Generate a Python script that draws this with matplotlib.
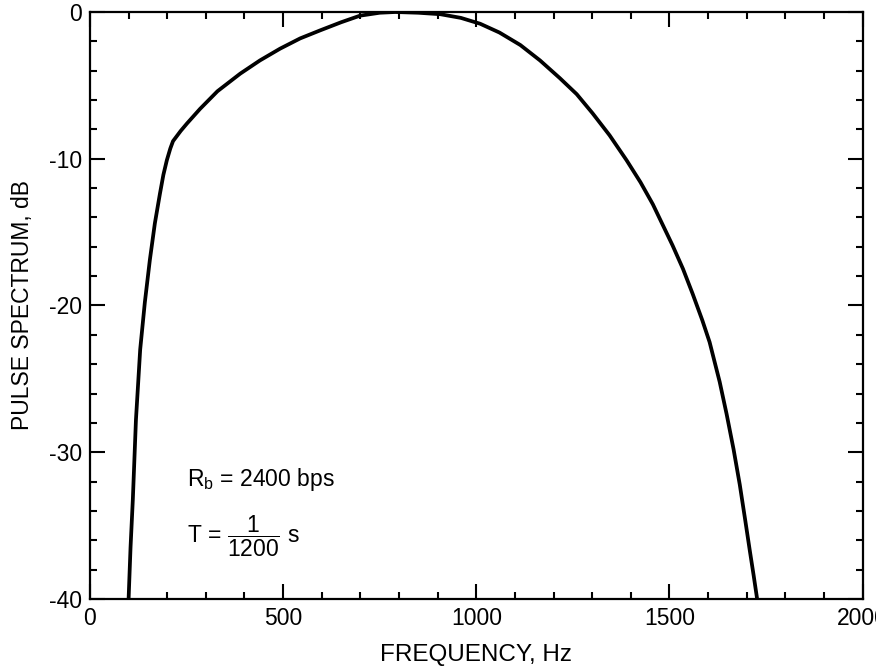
import matplotlib
matplotlib.use("Agg")
import matplotlib.pyplot as plt
from matplotlib.ticker import MultipleLocator

# ---------------------------------------------------------------------------
# Data
# ---------------------------------------------------------------------------
freq_hz = [100, 105, 111, 119, 130, 142, 155, 168, 181, 190, 199, 208, 215,
           235, 251, 285, 330, 389, 440, 492, 544, 596, 650, 699, 750, 790,
           850, 907, 960, 1010, 1060, 1114, 1165, 1216, 1260, 1301, 1345,
           1389, 1425, 1457, 1508, 1535, 1560, 1585, 1604, 1630, 1648, 1666,
           1682, 1696, 1708, 1718, 1727]
spectrum_db = [-40.0, -36.5, -33.2, -27.8, -23.0, -19.8, -16.9, -14.4, -12.4,
               -11.1, -10.1, -9.3, -8.8, -8.1, -7.6, -6.6, -5.4, -4.2, -3.3,
               -2.5, -1.8, -1.25, -0.7, -0.25, -0.05, 0.0, -0.05, -0.15, -0.4,
               -0.8, -1.4, -2.25, -3.3, -4.5, -5.6, -6.9, -8.4, -10.1, -11.6,
               -13.1, -15.9, -17.5, -19.2, -21.0, -22.5, -25.2, -27.4, -29.8,
               -32.2, -34.6, -36.7, -38.4, -40.0]

x_ticks = [0, 500, 1000, 1500, 2000]
y_ticks = [0, -10, -20, -30, -40]

plt.rcParams.update({
    "font.family": "Liberation Sans",
    "mathtext.fontset": "custom",
    "mathtext.rm": "Liberation Sans",
    "mathtext.it": "Liberation Sans:italic",
    "axes.unicode_minus": False,
})

fig = plt.figure(figsize=(8.76, 6.67), dpi=100)
ax = fig.add_axes([0.1027, 0.102, 0.882, 0.880])

ax.plot(freq_hz, spectrum_db, color="black", linewidth=2.7,
        solid_capstyle="butt", solid_joinstyle="round")

ax.set_xlim(0, 2000)
ax.set_ylim(-40, 0)
ax.set_xticks(x_ticks)
ax.set_yticks(y_ticks)
ax.xaxis.set_minor_locator(MultipleLocator(100))
ax.yaxis.set_minor_locator(MultipleLocator(2))
ax.tick_params(which="both", direction="in", top=True, right=True,
               width=1.5, labelsize=16.5, color="black")
ax.tick_params(which="major", length=11, pad=6)
ax.tick_params(which="minor", length=5)
for s in ax.spines.values():
    s.set_linewidth(1.6)

ax.set_xlabel("FREQUENCY, Hz", fontsize=17.5, labelpad=10)
ax.set_ylabel("PULSE SPECTRUM, dB", fontsize=16.5)
ax.yaxis.set_label_coords(-0.072, 0.5)

ax.text(0.1255, 0.203, r"$\mathrm{R_b}$ = 2400 bps", transform=ax.transAxes,
        fontsize=16.5, ha="left", va="center")
ax.text(0.1255, 0.106, r"T = $\dfrac{1}{1200}$ s", transform=ax.transAxes,
        fontsize=16.5, ha="left", va="center")

fig.savefig("out.png", dpi=100)
